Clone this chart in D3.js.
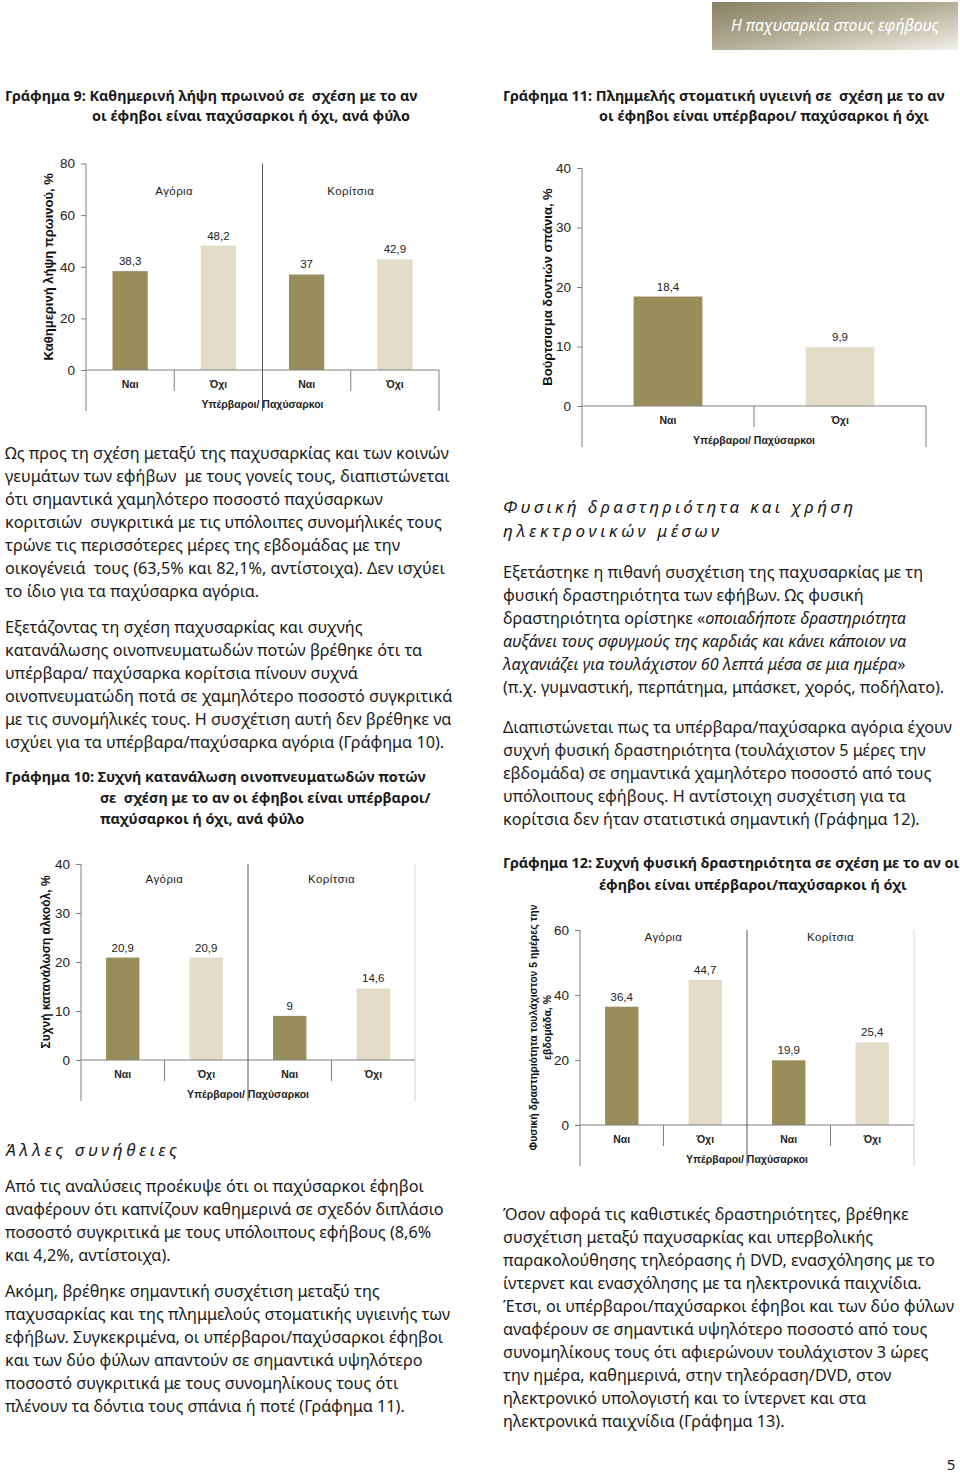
<!DOCTYPE html>
<html><head><meta charset="utf-8">
<script src="https://cdn.jsdelivr.net/npm/d3@7"></script>
<style>body{margin:0;background:#fff} text{white-space:pre}</style>
</head><body><svg id="page" width="960" height="1478" xmlns="http://www.w3.org/2000/svg"></svg>
<script>
// ---------------- DATA ----------------
const groups = ["Αγόρια", "Κορίτσια"];
const catsByGender = ["Ναι", "Όχι", "Ναι", "Όχι"];
const catsTotal = ["Ναι", "Όχι"];
const xAxisTitle = "Υπέρβαροι/ Παχύσαρκοι";

const breakfastValues = [38.3, 48.2, 37, 42.9];
const breakfastLabels = ["38,3", "48,2", "37", "42,9"];
const breakfastTicks = [0, 20, 40, 60, 80];

const brushingValues = [18.4, 9.9];
const brushingLabels = ["18,4", "9,9"];
const brushingTicks = [0, 10, 20, 30, 40];

const alcoholValues = [20.9, 20.9, 9, 14.6];
const alcoholLabels = ["20,9", "20,9", "9", "14,6"];
const alcoholTicks = [0, 10, 20, 30, 40];

const activityValues = [36.4, 44.7, 19.9, 25.4];
const activityLabels = ["36,4", "44,7", "19,9", "25,4"];
const activityTicks = [0, 20, 40, 60];

// ---------------- STYLE ----------------
const ARIAL = "'Liberation Sans', Arial, sans-serif";
const BODY = "'Noto Sans', 'Open Sans', sans-serif";
const DARK = "#988d5b", LIGHT = "#e3dcc9";
const svg = d3.select("#page");
svg.append("rect").attr("width", 960).attr("height", 1478).attr("fill", "#fff");

function fitSize(text, weight, style, target) {
  const t = svg.append("text").attr("font-family", BODY).attr("font-weight", weight)
    .attr("font-style", style).attr("font-size", 100).text(text);
  const w = t.node().getComputedTextLength(); t.remove();
  return 100 * target / w;
}
const bodySize = fitSize("Ως προς τη σχέση μεταξύ της παχυσαρκίας και των κοινών", 400, "normal", 444);
const titleSize = fitSize("Γράφημα 9: Καθημερινή λήψη πρωινού σε  σχέση με το αν", 700, "normal", 413);

// ---------------- HEADER ----------------
const defs = svg.append("defs");
const grad = defs.append("linearGradient").attr("id", "hdr").attr("x1", "0").attr("y1", "0").attr("x2", "1").attr("y2", "1");
grad.append("stop").attr("offset", "0%").attr("stop-color", "#878162");
grad.append("stop").attr("offset", "50%").attr("stop-color", "#b3af97");
grad.append("stop").attr("offset", "100%").attr("stop-color", "#f1f0ea");
svg.append("rect").attr("x", 712).attr("y", 2).attr("width", 246).attr("height", 48).attr("fill", "url(#hdr)");
svg.append("text").attr("x", 835).attr("y", 31).attr("text-anchor", "middle").attr("font-family", BODY)
  .attr("font-style", "italic").attr("font-size", 16.5).attr("fill", "#fff")
  .attr("textLength", 208).attr("lengthAdjust", "spacingAndGlyphs").text("Η παχυσαρκία στους εφήβους");

// ---------------- TEXT HELPERS ----------------
function textBlock(x, y0, lines, opts = {}) {
  const size = opts.size || bodySize, lh = opts.lh || 23, weight = opts.weight || 400;
  lines.forEach((ln, i) => {
    const t = svg.append("text").attr("x", typeof ln === "object" && ln.x !== undefined ? ln.x : x)
      .attr("y", y0 + i * lh).attr("font-family", BODY).attr("font-size", size)
      .attr("font-weight", weight).attr("fill", "#1a1a1a");
    const segs = Array.isArray(ln) ? ln : (typeof ln === "object" ? ln.segs : [[ln, false]]);
    segs.forEach(s => t.append("tspan").attr("font-style", s[1] ? "italic" : "normal").text(s[0]));
  });
}
function heading(x, y, str, width) {
  svg.append("text").attr("x", x).attr("y", y).attr("font-family", BODY).attr("font-style", "italic")
    .attr("font-size", 17).attr("fill", "#1a1a1a").attr("textLength", width).attr("lengthAdjust", "spacing").text(str);
}

// Titles
textBlock(5, 101, [
  {x: 5, segs: [["Γράφημα 9: Καθημερινή λήψη πρωινού σε  σχέση με το αν", false]]},
  {x: 92, segs: [["οι έφηβοι είναι παχύσαρκοι ή όχι, ανά φύλο", false]]}
], {size: titleSize, weight: 700, lh: 20});
textBlock(503, 101, [
  {x: 503, segs: [["Γράφημα 11: Πλημμελής στοματική υγιεινή σε  σχέση με το αν", false]]},
  {x: 599, segs: [["οι έφηβοι είναι υπέρβαροι/ παχύσαρκοι ή όχι", false]]}
], {size: titleSize, weight: 700, lh: 20});
textBlock(5, 782, [
  {x: 5, segs: [["Γράφημα 10: Συχνή κατανάλωση οινοπνευματωδών ποτών", false]]},
  {x: 100, segs: [["σε  σχέση με το αν οι έφηβοι είναι υπέρβαροι/", false]]},
  {x: 100, segs: [["παχύσαρκοι ή όχι, ανά φύλο", false]]}
], {size: titleSize, weight: 700, lh: 21});
textBlock(503, 868, [
  {x: 503, segs: [["Γράφημα 12: Συχνή φυσική δραστηριότητα σε σχέση με το αν οι", false]]},
  {x: 599, segs: [["έφηβοι είναι υπέρβαροι/παχύσαρκοι ή όχι", false]]}
], {size: titleSize, weight: 700, lh: 22});

// Body text
textBlock(5, 459, [
  "Ως προς τη σχέση μεταξύ της παχυσαρκίας και των κοινών",
  "γευμάτων των εφήβων  με τους γονείς τους, διαπιστώνεται",
  "ότι σημαντικά χαμηλότερο ποσοστό παχύσαρκων",
  "κοριτσιών  συγκριτικά με τις υπόλοιπες συνομήλικές τους",
  "τρώνε τις περισσότερες μέρες της εβδομάδας με την",
  "οικογένειά  τους (63,5% και 82,1%, αντίστοιχα). Δεν ισχύει",
  "το ίδιο για τα παχύσαρκα αγόρια."
]);
textBlock(5, 633, [
  "Εξετάζοντας τη σχέση παχυσαρκίας και συχνής",
  "κατανάλωσης οινοπνευματωδών ποτών βρέθηκε ότι τα",
  "υπέρβαρα/ παχύσαρκα κορίτσια πίνουν συχνά",
  "οινοπνευματώδη ποτά σε χαμηλότερο ποσοστό συγκριτικά",
  "με τις συνομήλικές τους. Η συσχέτιση αυτή δεν βρέθηκε να",
  "ισχύει για τα υπέρβαρα/παχύσαρκα αγόρια (Γράφημα 10)."
]);
heading(503, 513, "Φυσική δραστηριότητα και χρήση", 350);
heading(503, 537, "ηλεκτρονικών μέσων", 216);
textBlock(503, 578, [
  "Εξετάστηκε η πιθανή συσχέτιση της παχυσαρκίας με τη",
  "φυσική δραστηριότητα των εφήβων. Ως φυσική",
  [["δραστηριότητα ορίστηκε «", false], ["οποιαδήποτε δραστηριότητα", true]],
  [["αυξάνει τους σφυγμούς της καρδιάς και κάνει κάποιον να", true]],
  [["λαχανιάζει για τουλάχιστον 60 λεπτά μέσα σε μια ημέρα", true], ["»", false]],
  "(π.χ. γυμναστική, περπάτημα, μπάσκετ, χορός, ποδήλατο)."
]);
textBlock(503, 733, [
  "Διαπιστώνεται πως τα υπέρβαρα/παχύσαρκα αγόρια έχουν",
  "συχνή φυσική δραστηριότητα (τουλάχιστον 5 μέρες την",
  "εβδομάδα) σε σημαντικά χαμηλότερο ποσοστό από τους",
  "υπόλοιπους εφήβους. Η αντίστοιχη συσχέτιση για τα",
  "κορίτσια δεν ήταν στατιστικά σημαντική (Γράφημα 12)."
]);
heading(5, 1156, "Άλλες συνήθειες", 172);
textBlock(5, 1192, [
  "Από τις αναλύσεις προέκυψε ότι οι παχύσαρκοι έφηβοι",
  "αναφέρουν ότι καπνίζουν καθημερινά σε σχεδόν διπλάσιο",
  "ποσοστό συγκριτικά με τους υπόλοιπους εφήβους (8,6%",
  "και 4,2%, αντίστοιχα)."
]);
textBlock(5, 1297, [
  "Ακόμη, βρέθηκε σημαντική συσχέτιση μεταξύ της",
  "παχυσαρκίας και της πλημμελούς στοματικής υγιεινής των",
  "εφήβων. Συγκεκριμένα, οι υπέρβαροι/παχύσαρκοι έφηβοι",
  "και των δύο φύλων απαντούν σε σημαντικά υψηλότερο",
  "ποσοστό συγκριτικά με τους συνομηλίκους τους ότι",
  "πλένουν τα δόντια τους σπάνια ή ποτέ (Γράφημα 11)."
]);
textBlock(503, 1220, [
  "Όσον αφορά τις καθιστικές δραστηριότητες, βρέθηκε",
  "συσχέτιση μεταξύ παχυσαρκίας και υπερβολικής",
  "παρακολούθησης τηλεόρασης ή DVD, ενασχόλησης με το",
  "ίντερνετ και ενασχόλησης με τα ηλεκτρονικά παιχνίδια.",
  "Έτσι, οι υπέρβαροι/παχύσαρκοι έφηβοι και των δύο φύλων",
  "αναφέρουν σε σημαντικά υψηλότερο ποσοστό από τους",
  "συνομηλίκους τους ότι αφιερώνουν τουλάχιστον 3 ώρες",
  "την ημέρα, καθημερινά, στην τηλεόραση/DVD, στον",
  "ηλεκτρονικό υπολογιστή και το ίντερνετ και στα",
  "ηλεκτρονικά παιχνίδια (Γράφημα 13)."
]);
svg.append("text").attr("x", 951).attr("y", 1470).attr("text-anchor", "middle").attr("font-family", BODY)
  .attr("font-size", 15).attr("fill", "#1a1a1a").text("5");

// ---------------- CHARTS ----------------
function drawChart(o) {
  const g = svg.append("g");
  const n = o.cats.length;
  const y = d3.scaleLinear().domain([0, d3.max(o.ticks)]).range([o.y0, o.yTop]);
  const x = d3.scaleBand().domain(d3.range(n)).range([o.x0, o.xR]).paddingInner(0.6).paddingOuter(0.3);
  const step = x.step();
  const bottom = o.y0 + 41;
  const axisCol = "#808080";

  if (o.rightLine) g.append("line").attr("x1", o.xR).attr("x2", o.xR).attr("y1", o.yTop).attr("y2", o.y0)
    .attr("stroke", "#d9d9d9");

  g.selectAll("rect.bar").data(o.values).join("rect").attr("class", "bar")
    .attr("x", (d, i) => x(i)).attr("width", x.bandwidth())
    .attr("y", d => y(d)).attr("height", d => o.y0 - y(d))
    .attr("fill", (d, i) => i % 2 === 0 ? DARK : LIGHT);

  g.selectAll("text.val").data(o.values).join("text").attr("class", "val")
    .attr("x", (d, i) => x(i) + x.bandwidth() / 2).attr("y", d => y(d) - 6)
    .attr("text-anchor", "middle").attr("font-family", ARIAL).attr("font-size", 11.5).attr("fill", "#222")
    .text((d, i) => o.labels[i]);

  const ax = g.append("g").attr("transform", `translate(${o.x0},0)`)
    .call(d3.axisLeft(y).tickValues(o.ticks).tickSize(5).tickPadding(6).tickFormat(d3.format("d")));
  ax.select(".domain").remove();
  ax.selectAll("line").attr("stroke", axisCol);
  ax.selectAll("text").attr("font-family", ARIAL).attr("font-size", 13.5).attr("fill", "#222");

  g.append("line").attr("x1", o.x0).attr("x2", o.x0).attr("y1", o.yTop).attr("y2", bottom).attr("stroke", axisCol);
  g.append("line").attr("x1", o.x0).attr("x2", o.xR).attr("y1", o.y0).attr("y2", o.y0).attr("stroke", axisCol);

  for (let i = 1; i <= n; i++) {
    const xs = o.x0 + i * step;
    const isGroupDiv = o.groups && i === n / 2;
    const outer = i === n || isGroupDiv;
    g.append("line").attr("x1", xs).attr("x2", xs)
      .attr("y1", isGroupDiv ? o.yTop : o.y0).attr("y2", outer ? bottom : o.y0 + 21)
      .attr("stroke", isGroupDiv ? "#595959" : (i === n && o.rightLine ? "#cfcfcf" : axisCol));
  }

  g.selectAll("text.cat").data(o.cats).join("text").attr("class", "cat")
    .attr("x", (d, i) => x(i) + x.bandwidth() / 2).attr("y", o.y0 + 18)
    .attr("text-anchor", "middle").attr("font-family", ARIAL).attr("font-size", 10.5)
    .attr("font-weight", 700).attr("fill", "#222").text(d => d);

  g.append("text").attr("x", (o.x0 + o.xR) / 2).attr("y", o.y0 + 38).attr("text-anchor", "middle")
    .attr("font-family", ARIAL).attr("font-size", 10.5).attr("font-weight", 700).attr("fill", "#222").text(xAxisTitle);

  if (o.groups) {
    const half = (o.xR - o.x0) / 2;
    g.selectAll("text.grp").data(o.groups).join("text").attr("class", "grp")
      .attr("x", (d, i) => o.x0 + half * (i + 0.5)).attr("y", o.groupY)
      .attr("text-anchor", "middle").attr("font-family", ARIAL).attr("font-size", 11.5)
      .attr("letter-spacing", 0.4).attr("fill", "#222").text(d => d);
  }

  const cy = (o.yTop + o.y0) / 2;
  o.yLabel.forEach((ln, k) => {
    g.append("text").attr("transform", `translate(${o.yLabelX[k]},${cy}) rotate(-90)`)
      .attr("text-anchor", "middle").attr("font-family", ARIAL).attr("font-weight", 700)
      .attr("font-size", o.yLabelSize).attr("fill", "#111").text(ln);
  });
}

drawChart({x0: 86, xR: 439, yTop: 163.5, y0: 370, ticks: breakfastTicks, values: breakfastValues,
  labels: breakfastLabels, cats: catsByGender, groups: groups, groupY: 195,
  yLabel: ["Καθημερινή λήψη πρωινού, %"], yLabelX: [53], yLabelSize: 13});
drawChart({x0: 582, xR: 926, yTop: 168, y0: 406, ticks: brushingTicks, values: brushingValues,
  labels: brushingLabels, cats: catsTotal, groups: null,
  yLabel: ["Βούρτσισμα δοντιών σπάνια, %"], yLabelX: [552], yLabelSize: 13});
drawChart({x0: 81, xR: 415, yTop: 864, y0: 1060, ticks: alcoholTicks, values: alcoholValues,
  labels: alcoholLabels, cats: catsByGender, groups: groups, groupY: 883, rightLine: true,
  yLabel: ["Συχνή κατανάλωση αλκοόλ, %"], yLabelX: [49.5], yLabelSize: 12});
drawChart({x0: 580, xR: 914, yTop: 930, y0: 1125, ticks: activityTicks, values: activityValues,
  labels: activityLabels, cats: catsByGender, groups: groups, groupY: 941, rightLine: true,
  yLabel: ["Φυσική δραστηριότητα τουλάχιστον 5 ημέρες την", "εβδομάδα, %"], yLabelX: [537, 551], yLabelSize: 10.5});
</script></body></html>
